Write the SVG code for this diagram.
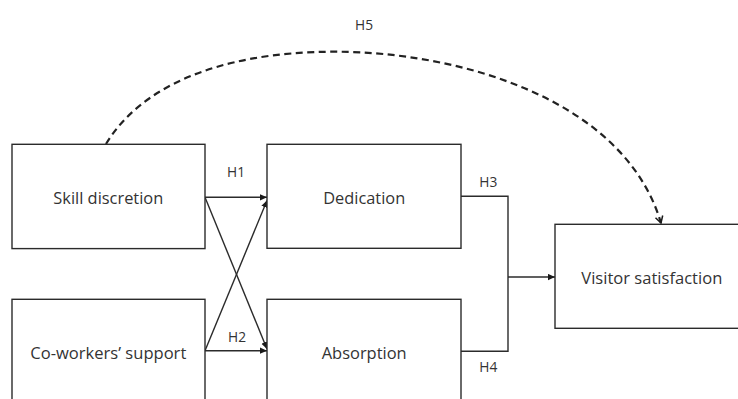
<svg xmlns="http://www.w3.org/2000/svg" width="738" height="399" viewBox="0 0 738 399">
  <style>
    .box { fill: #ffffff; stroke: #2b2b2b; stroke-width: 1.4; }
    .lbl { font-family: "Open Sans", "Liberation Sans", sans-serif; font-size: 15.5px; fill: #333333; text-anchor: middle; }
    .hyp { font-family: "Open Sans", "Liberation Sans", sans-serif; font-size: 15px; fill: #333333; text-anchor: middle; }
    .conn { fill: none; stroke: #2b2b2b; stroke-width: 1.4; }
    .dash { fill: none; stroke: #222222; stroke-width: 2.2; stroke-dasharray: 7 4.5; }
  </style>
  <defs>
    <marker id="arrow" viewBox="0 0 10 10" refX="10" refY="5" markerWidth="7" markerHeight="7" markerUnits="userSpaceOnUse" orient="auto">
      <path d="M0,0.5 L10,5 L0,9.5 Z" fill="#1a1a1a"/>
    </marker>
    <marker id="open" viewBox="0 0 12 12" refX="10" refY="6" markerWidth="10" markerHeight="10" markerUnits="userSpaceOnUse" orient="auto">
      <path d="M2,1.5 L10,6 L2,10.5" fill="none" stroke="#1a1a1a" stroke-width="1.8"/>
    </marker>
  </defs>

  <g id="connectors">
    <line class="conn" x1="205" y1="197.3" x2="267" y2="197.3" marker-end="url(#arrow)"/>
    <line class="conn" x1="205" y1="197.3" x2="267" y2="349" marker-end="url(#arrow)"/>
    <line class="conn" x1="205" y1="350.7" x2="267" y2="200.5" marker-end="url(#arrow)"/>
    <line class="conn" x1="205" y1="350.7" x2="267" y2="350.7" marker-end="url(#arrow)"/>
    <polyline class="conn" points="461,196.3 508,196.3 508,351.3 461,351.3"/>
    <line class="conn" x1="508" y1="277" x2="555" y2="277" marker-end="url(#arrow)"/>
    <path class="dash" d="M106,144 C139,89 215,51.7 335,51.7 C455,51.7 623.5,97 661,223" marker-end="url(#open)"/>
    <text class="hyp" x="236" y="177.3" textLength="18" lengthAdjust="spacingAndGlyphs">H1</text>
    <text class="hyp" x="237" y="341.7" textLength="18" lengthAdjust="spacingAndGlyphs">H2</text>
    <text class="hyp" x="488.3" y="186.5" textLength="18" lengthAdjust="spacingAndGlyphs">H3</text>
    <text class="hyp" x="488.3" y="371.7" textLength="18" lengthAdjust="spacingAndGlyphs">H4</text>
    <text class="hyp" x="364" y="30" textLength="18" lengthAdjust="spacingAndGlyphs">H5</text>
  </g>

  <g id="skill-discretion">
    <rect class="box" x="12" y="144.3" width="193" height="104.3"/>
    <text class="lbl" x="108.3" y="204" textLength="110" lengthAdjust="spacingAndGlyphs">Skill discretion</text>
  </g>
  <g id="coworkers-support">
    <rect class="box" x="12" y="299.3" width="193" height="110"/>
    <text class="lbl" x="108.3" y="358.5" textLength="156" lengthAdjust="spacingAndGlyphs">Co-workers’ support</text>
  </g>
  <g id="dedication">
    <rect class="box" x="267" y="144.3" width="194" height="104"/>
    <text class="lbl" x="364.2" y="204" textLength="82" lengthAdjust="spacingAndGlyphs">Dedication</text>
  </g>
  <g id="absorption">
    <rect class="box" x="267" y="299.3" width="194" height="110"/>
    <text class="lbl" x="364.2" y="358.8" textLength="85" lengthAdjust="spacingAndGlyphs">Absorption</text>
  </g>
  <g id="visitor-satisfaction">
    <rect class="box" x="555" y="224.3" width="200" height="104"/>
    <text class="lbl" x="651.8" y="284" textLength="141" lengthAdjust="spacingAndGlyphs">Visitor satisfaction</text>
  </g>
</svg>
